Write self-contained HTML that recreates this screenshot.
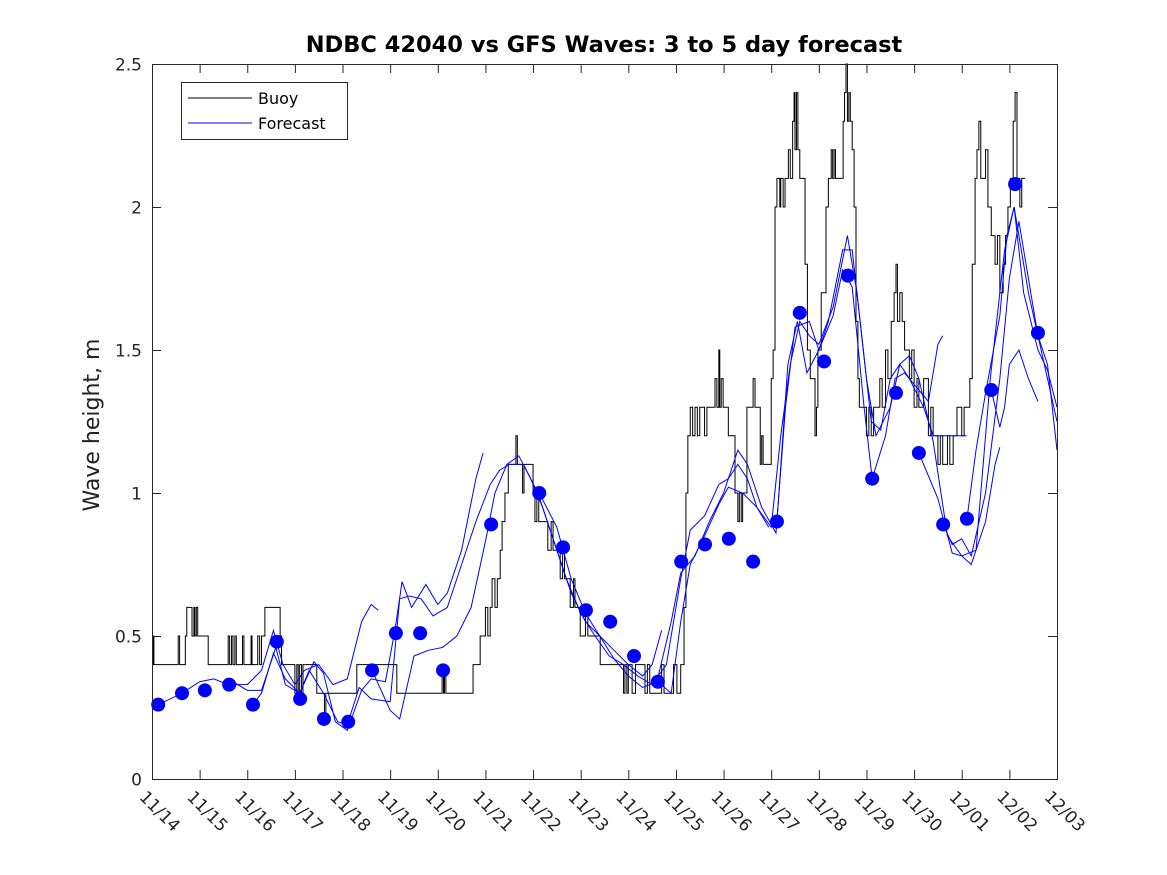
<!DOCTYPE html>
<html><head><meta charset="utf-8"><style>
html,body{margin:0;padding:0;background:#fff;}
svg{display:block;font-family:"DejaVu Sans","Liberation Sans",sans-serif;}
</style></head><body>
<svg id="chart" width="1167" height="875" viewBox="0 0 1167 875">
<rect width="1167" height="875" fill="#fff"/>
<text x="604" y="52" text-anchor="middle" font-size="22.5" font-weight="bold" fill="#000">NDBC 42040 vs GFS Waves: 3 to 5 day forecast</text>
<text transform="translate(99,425) rotate(-90)" text-anchor="middle" font-size="22" fill="#222">Wave height, m</text>
<g id="plot"></g>
<g id="axes"></g>
<g>
<rect x="181.5" y="82.5" width="166" height="57" fill="#fff" stroke="#262626" stroke-width="1"/>
<line x1="188" y1="98" x2="252" y2="98" stroke="#000" stroke-width="1"/>
<text x="258" y="104" font-size="16" fill="#000">Buoy</text>
<line x1="188" y1="123" x2="252" y2="123" stroke="#0000ff" stroke-width="1"/>
<text x="258" y="129" font-size="16" fill="#000">Forecast</text>
</g>
</svg>
<script>
const xTickLabels=["11/14","11/15","11/16","11/17","11/18","11/19","11/20","11/21","11/22","11/23","11/24","11/25","11/26","11/27","11/28","11/29","11/30","12/01","12/02","12/03"];
const yTicks=[0,0.5,1,1.5,2,2.5];
const yTickLabels=["0","0.5","1","1.5","2","2.5"];
const buoy=[[0,0.4],[0.02,0.5],[0.04,0.4],[0.55,0.5],[0.58,0.4],[0.7,0.5],[0.73,0.6],[0.84,0.5],[0.88,0.6],[0.9,0.5],[0.93,0.6],[0.96,0.5],[1.18,0.4],[1.6,0.5],[1.63,0.4],[1.67,0.5],[1.7,0.4],[1.74,0.5],[1.77,0.4],[1.9,0.5],[1.93,0.4],[2.08,0.5],[2.1,0.4],[2.22,0.5],[2.26,0.4],[2.3,0.5],[2.37,0.6],[2.69,0.5],[2.72,0.4],[3.0,0.3],[3.04,0.4],[3.07,0.3],[3.1,0.4],[3.14,0.3],[3.17,0.4],[3.46,0.3],[3.62,0.2],[3.65,0.3],[4.3,0.4],[5.14,0.3],[6.09,0.4],[6.12,0.3],[6.14,0.4],[6.17,0.3],[6.74,0.4],[6.89,0.5],[7.0,0.6],[7.05,0.5],[7.1,0.6],[7.14,0.7],[7.2,0.6],[7.25,0.7],[7.31,0.8],[7.35,0.9],[7.41,1.0],[7.48,1.1],[7.64,1.2],[7.67,1.1],[7.78,1.0],[7.81,1.1],[8.0,1.0],[8.04,0.9],[8.08,1.0],[8.12,0.9],[8.31,0.8],[8.38,0.9],[8.42,0.8],[8.57,0.7],[8.62,0.8],[8.66,0.7],[8.78,0.6],[8.85,0.7],[8.88,0.6],[8.99,0.5],[9.1,0.6],[9.15,0.5],[9.41,0.4],[9.9,0.3],[9.93,0.4],[9.97,0.3],[10.0,0.4],[10.08,0.3],[10.15,0.4],[10.35,0.3],[10.4,0.4],[10.45,0.3],[10.7,0.4],[10.75,0.3],[10.95,0.4],[11.02,0.3],[11.1,0.4],[11.17,0.6],[11.21,1.0],[11.25,1.2],[11.3,1.3],[11.35,1.2],[11.4,1.3],[11.45,1.2],[11.5,1.3],[11.6,1.2],[11.65,1.3],[11.82,1.4],[11.86,1.3],[11.9,1.5],[11.92,1.3],[11.95,1.4],[11.99,1.3],[12.1,1.2],[12.24,1.0],[12.3,0.9],[12.33,1.0],[12.37,0.9],[12.4,1.0],[12.49,1.3],[12.62,1.4],[12.66,1.3],[12.77,1.1],[12.8,1.2],[12.83,1.1],[13.0,1.4],[13.04,1.5],[13.08,2.0],[13.12,2.1],[13.18,2.0],[13.2,2.1],[13.25,2.0],[13.29,2.1],[13.36,2.2],[13.4,2.1],[13.45,2.3],[13.48,2.4],[13.5,2.2],[13.53,2.4],[13.56,2.2],[13.6,2.1],[13.71,1.8],[13.76,1.5],[13.82,1.4],[13.92,1.2],[13.95,1.3],[13.98,1.5],[14.05,1.7],[14.15,2.0],[14.2,2.1],[14.26,2.2],[14.29,2.1],[14.32,2.2],[14.35,2.1],[14.51,2.3],[14.54,2.4],[14.57,2.5],[14.6,2.3],[14.63,2.4],[14.66,2.3],[14.7,2.2],[14.74,2.0],[14.78,1.6],[14.82,1.4],[14.85,1.3],[15.0,1.2],[15.05,1.3],[15.1,1.2],[15.15,1.3],[15.28,1.4],[15.33,1.3],[15.4,1.5],[15.45,1.4],[15.52,1.6],[15.58,1.7],[15.62,1.8],[15.65,1.6],[15.7,1.7],[15.75,1.6],[15.8,1.5],[15.9,1.4],[15.95,1.5],[16.0,1.3],[16.06,1.4],[16.1,1.3],[16.2,1.4],[16.3,1.2],[16.35,1.3],[16.4,1.2],[16.5,1.1],[16.55,1.2],[16.6,1.1],[16.7,1.2],[16.75,1.1],[16.82,1.2],[16.9,1.3],[17.0,1.2],[17.05,1.3],[17.17,1.4],[17.22,1.8],[17.28,2.1],[17.32,2.2],[17.36,2.3],[17.4,2.1],[17.5,2.2],[17.55,2.0],[17.62,1.9],[17.7,1.8],[17.75,1.9],[17.8,1.7],[17.87,1.8],[17.92,1.9],[17.97,2.0],[18.02,2.1],[18.08,2.3],[18.12,2.4],[18.16,2.1],[18.22,2.0],[18.26,2.1],[18.33,2.1]];
const forecast1=[[0.13,0.26],[0.63,0.30],[1.0,0.34],[1.3,0.35],[1.6,0.33],[2.0,0.33],[2.3,0.38],[2.55,0.52],[2.75,0.40],[3.0,0.33],[3.2,0.38],[3.5,0.40],[3.8,0.33],[4.1,0.35],[4.4,0.55],[4.6,0.61],[4.75,0.59]];
const forecast2=[[1.6,0.35],[2.0,0.31],[2.3,0.31],[2.6,0.46],[2.8,0.33],[3.1,0.30],[3.4,0.41],[3.6,0.37],[3.85,0.20],[4.1,0.17],[4.4,0.31],[4.6,0.35],[4.9,0.34],[5.1,0.52],[5.25,0.69],[5.45,0.60],[5.75,0.68],[6.0,0.61],[6.2,0.65],[6.5,0.80],[6.8,1.05],[6.95,1.14]];
const forecast3=[[2.12,0.26],[2.3,0.30],[2.55,0.44],[2.8,0.35],[3.1,0.30],[3.3,0.38],[3.6,0.30],[3.9,0.20],[4.1,0.19],[4.35,0.32],[4.6,0.28],[5.0,0.27],[5.2,0.63],[5.4,0.64],[5.65,0.63],[5.9,0.57],[6.2,0.60],[6.5,0.75],[6.8,0.90],[7.1,1.03],[7.3,1.08],[7.5,1.10],[7.8,1.10],[8.1,1.00],[8.4,0.85],[8.7,0.70],[9.0,0.58],[9.3,0.50],[9.6,0.43],[9.9,0.40],[10.2,0.36],[10.5,0.33],[10.8,0.40],[11.1,0.70],[11.3,0.87],[11.6,0.92],[11.9,1.03],[12.1,1.05],[12.3,1.10],[12.5,1.05],[12.7,0.95],[12.95,0.88]];
const forecast4=[[4.62,0.38],[5.0,0.24],[5.2,0.21],[5.5,0.43],[5.8,0.45],[6.1,0.46],[6.4,0.50],[6.7,0.60],[7.0,0.83],[7.2,1.00],[7.45,1.10],[7.7,1.13],[7.95,1.05],[8.2,0.95],[8.5,0.80],[8.8,0.65],[9.1,0.55],[9.4,0.50],[9.7,0.42],[10.0,0.36],[10.3,0.32],[10.6,0.34],[10.9,0.55],[11.1,0.72],[11.4,0.78],[11.7,0.90],[12.0,1.00],[12.3,1.15],[12.5,1.10],[12.8,0.95],[13.1,0.86],[13.3,1.30],[13.5,1.58],[13.8,1.60],[14.0,1.50],[14.2,1.60],[14.5,1.85],[14.7,1.85],[14.9,1.55],[15.1,1.25],[15.3,1.22],[15.5,1.40],[15.7,1.45],[15.9,1.40],[16.2,1.30],[16.4,1.20],[16.6,1.20],[16.9,1.20],[17.1,1.20]];
const forecast5=[[8.13,1.00],[8.5,0.88],[8.8,0.70],[9.1,0.58],[9.4,0.50],[9.7,0.45],[10.0,0.40],[10.3,0.36],[10.5,0.40],[10.7,0.52]];
const forecast6=[[10.62,0.34],[10.9,0.30],[11.1,0.55],[11.3,0.75],[11.6,0.85],[11.9,0.96],[12.1,1.02],[12.4,1.00],[12.7,0.95],[13.0,0.88],[13.2,1.20],[13.4,1.45],[13.6,1.60],[13.8,1.55],[14.0,1.52],[14.3,1.65],[14.6,1.90],[14.8,1.70],[15.0,1.40],[15.2,1.20],[15.5,1.30],[15.7,1.45],[15.9,1.48],[16.1,1.40],[16.4,1.18],[16.7,0.85],[17.0,0.78],[17.3,0.80],[17.6,1.40],[17.9,1.85],[18.1,2.00],[18.4,1.70],[18.6,1.55],[18.8,1.45],[19.0,1.15]];
const forecast7=[[13.12,0.90],[13.35,1.45],[13.55,1.60],[13.75,1.42],[14.0,1.50],[14.3,1.62],[14.5,1.78],[14.7,1.72],[14.95,1.30],[15.12,1.05],[15.4,1.20],[15.6,1.40],[15.8,1.42],[16.0,1.38],[16.3,1.32],[16.5,1.52],[16.6,1.55]];
const forecast8=[[16.1,1.14],[16.3,1.06],[16.5,0.98],[16.8,0.79],[17.0,0.78],[17.2,0.75],[17.5,0.90],[17.7,1.10],[17.8,1.16]];
const forecast9=[[16.61,0.89],[16.8,0.82],[17.0,0.84],[17.2,0.78],[17.5,1.00],[17.8,1.40],[18.0,1.75],[18.2,1.95],[18.4,1.75],[18.6,1.55],[18.8,1.40],[19.0,1.25]];
const forecast10=[[17.62,1.36],[17.8,1.23],[17.9,1.30],[18.0,1.45],[18.2,1.50],[18.4,1.40],[18.6,1.32]];
const forecast11=[[17.11,0.91],[17.3,1.15],[17.5,1.35],[17.8,1.62],[17.95,1.90],[18.1,2.00],[18.3,1.70],[18.6,1.50],[18.8,1.43],[19.0,1.30]];
const dotDays=[0.13,0.63,1.11,1.62,2.12,2.62,3.11,3.61,4.12,4.62,5.12,5.63,6.11,7.12,8.13,8.63,9.11,9.62,10.12,10.62,11.11,11.61,12.11,12.62,13.12,13.6,14.11,14.61,15.12,15.62,16.1,16.61,17.11,17.62,18.12,18.6];
const dotValues=[0.26,0.30,0.31,0.33,0.26,0.48,0.28,0.21,0.20,0.38,0.51,0.51,0.38,0.89,1.00,0.81,0.59,0.55,0.43,0.34,0.76,0.82,0.84,0.76,0.90,1.63,1.46,1.76,1.05,1.35,1.14,0.89,0.91,1.36,2.08,1.56];

const X0=152,X1=1057,Y0=779,Y1=64,XMAX=19,YMAX=2.5;
const sx=d=>X0+(X1-X0)*d/XMAX;
const sy=v=>Y0-(Y0-Y1)*v/YMAX;
const NS="http://www.w3.org/2000/svg";
const plot=document.getElementById('plot'), axes=document.getElementById('axes');
function mk(tag,attrs,parent){const e=document.createElementNS(NS,tag);for(const k in attrs)e.setAttribute(k,attrs[k]);parent.appendChild(e);return e;}

let d='';
buoy.forEach((p,i)=>{ if(i===0) d+='M'+sx(p[0])+','+sy(p[1]); else { d+='H'+sx(p[0])+'V'+sy(p[1]); } });
const bl=mk('path',{d:d,fill:'none',stroke:'#000','stroke-width':1},plot);



const fcs=[forecast1,forecast2,forecast3,forecast4,forecast5,forecast6,forecast7,forecast8,forecast9,forecast10,forecast11];
fcs.forEach((s,i)=>{
  const pd=s.map((p,j)=>(j?'L':'M')+sx(p[0])+','+sy(p[1])).join('');
  const l=mk('path',{d:pd,fill:'none',stroke:'#0000ff','stroke-width':1},plot);
  
  
});
dotDays.forEach((dd,i)=>{
  const c=mk('circle',{cx:sx(dd),cy:sy(dotValues[i]),r:7,fill:'#0000ff'},plot);
  
  
});

const box=mk('rect',{x:X0+0.5,y:Y1+0.5,width:X1-X0,height:Y0-Y1,fill:'none',stroke:'#262626','stroke-width':1},axes);


xTickLabels.forEach((lab,i)=>{
  const x=sx(i)+0.5;
  mk('line',{x1:x,y1:Y0,x2:x,y2:Y0-9,stroke:'#262626'},axes);
  mk('line',{x1:x,y1:Y1,x2:x,y2:Y1+9,stroke:'#262626'},axes);
  const t=mk('text',{transform:'translate('+(x-14)+','+(Y0+19)+') rotate(45)','font-size':17,fill:'#262626'},axes);
  t.textContent=lab;
  
  
});
yTicks.forEach((v,i)=>{
  const y=sy(v)+0.5;
  mk('line',{x1:X0,y1:y,x2:X0+9,y2:y,stroke:'#262626'},axes);
  mk('line',{x1:X1,y1:y,x2:X1-9,y2:y,stroke:'#262626'},axes);
  const t=mk('text',{x:X0-10,y:y+6,'text-anchor':'end','font-size':17,fill:'#262626'},axes);
  t.textContent=yTickLabels[i];
  
  
});
</script>
</body></html>
